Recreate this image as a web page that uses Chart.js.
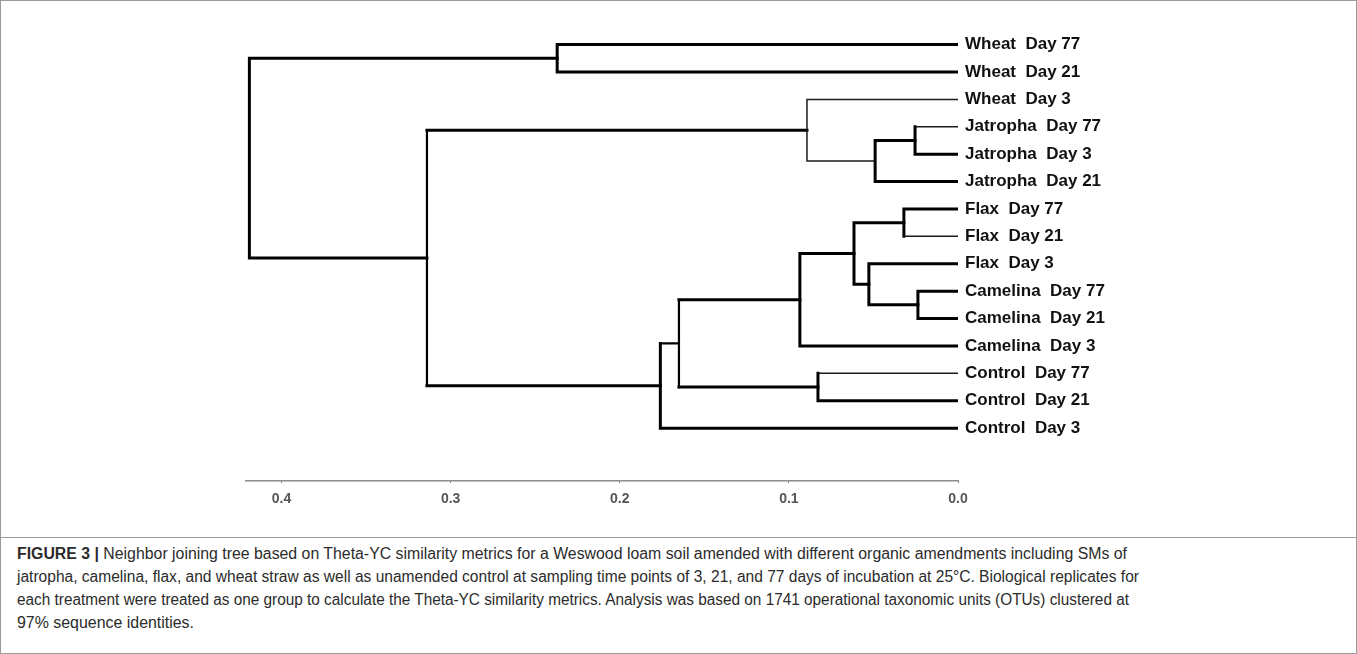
<!DOCTYPE html>
<html><head><meta charset="utf-8">
<script src="https://cdn.jsdelivr.net/npm/chart.js@4.4.0/dist/chart.umd.min.js"></script>
<style>
html,body{margin:0;padding:0;background:#fff;width:1357px;height:654px;overflow:hidden;}
#frame{position:absolute;left:0;top:0;width:1355px;height:652px;border:1px solid #9a9a9a;}
#chartBox{position:absolute;left:0;top:0;width:1357px;height:538px;}
#divider{position:absolute;left:0;top:537px;width:1357px;height:1px;background:#9a9a9a;}
#caption{position:absolute;left:17px;top:542px;font-family:'Liberation Sans',Arial,sans-serif;font-size:16px;line-height:23px;color:#2b2b2b;white-space:nowrap;}
#caption .ln{display:block;width:max-content;transform-origin:0 0;}
</style></head>
<body>
<div id="frame"></div>
<div id="divider"></div>
<div id="chartBox"><canvas id="c" width="1357" height="538"></canvas></div>
<div id="caption">
<span class="ln" data-end="1127"><b>FIGURE 3 |</b> Neighbor joining tree based on Theta-YC similarity metrics for a Weswood loam soil amended with different organic amendments including SMs of</span>
<span class="ln" data-end="1139">jatropha, camelina, flax, and wheat straw as well as unamended control at sampling time points of 3, 21, and 77 days of incubation at 25°C. Biological replicates for</span>
<span class="ln" data-end="1129">each treatment were treated as one group to calculate the Theta-YC similarity metrics. Analysis was based on 1741 operational taxonomic units (OTUs) clustered at</span>
<span class="ln" data-end="194">97% sequence identities.</span>
</div>
<script>
// ---- data ----
const LEAVES = ["Wheat  Day 77","Wheat  Day 21","Wheat  Day 3","Jatropha  Day 77","Jatropha  Day 3","Jatropha  Day 21","Flax  Day 77","Flax  Day 21","Flax  Day 3","Camelina  Day 77","Camelina  Day 21","Camelina  Day 3","Control  Day 77","Control  Day 21","Control  Day 3"];
// merge k creates node (15 + k) joining CHILD_A[k] and CHILD_B[k] at distance HEIGHT[k]
const CHILD_A = [0, 3, 16, 2, 6, 9, 8, 19, 22, 12, 23, 25, 18, 15];
const CHILD_B = [1, 4, 5, 17, 7, 10, 20, 21, 11, 13, 24, 14, 26, 27];
const HEIGHT  = [0.237, 0.0254, 0.049, 0.0893, 0.032, 0.0237, 0.0527, 0.0615, 0.0935, 0.0828, 0.165, 0.176, 0.314, 0.419];
const X_TICKS = [0, 0.1, 0.2, 0.3, 0.4];
const AXIS_MAX = 0.421;

// ---- styles ----
const THIN_BRANCH = [2, 17, 3, 7, 12];      // nodes whose incoming branch is drawn thin
const MED_BRANCH = [25];
const THIN_VERT = [18];
const MED_VERT = [25, 27];
const W_THICK = 3, W_THIN = 1.5, W_MED = 2.2;

const N = LEAVES.length;
const nodeY = [], nodeH = [];
for (let i = 0; i < N; i++) { nodeY[i] = i; nodeH[i] = 0; }
for (let k = 0; k < HEIGHT.length; k++) {
  const id = N + k;
  nodeY[id] = (nodeY[CHILD_A[k]] + nodeY[CHILD_B[k]]) / 2;
  nodeH[id] = HEIGHT[k];
}
function bw(node) { return THIN_BRANCH.includes(node) ? W_THIN : (MED_BRANCH.includes(node) ? W_MED : W_THICK); }
function vw(node) { return THIN_VERT.includes(node) ? W_THIN : (MED_VERT.includes(node) ? W_MED : W_THICK); }

const datasets = [];
for (let k = 0; k < HEIGHT.length; k++) {
  const id = N + k, a = CHILD_A[k], b = CHILD_B[k], H = HEIGHT[k];
  const widths = [bw(a), vw(id), bw(b)];
  datasets.push({
    data: [{x: nodeH[a], y: nodeY[a]}, {x: H, y: nodeY[a]}, {x: H, y: nodeY[b]}, {x: nodeH[b], y: nodeY[b]}],
    showLine: true, pointRadius: 0, borderColor: '#000', borderCapStyle: 'square', borderJoinStyle: 'miter',
    borderWidth: W_THICK,
    segment: { borderWidth: ctx => widths[ctx.p0DataIndex], borderColor: ctx => widths[ctx.p0DataIndex] < 2 ? '#1a1a1a' : '#000' }
  });
}

const FONT = "'Liberation Sans', Arial, sans-serif";
new Chart(document.getElementById('c'), {
  type: 'scatter',
  data: { datasets },
  options: {
    responsive: false, animation: false, events: [],
    layout: { padding: { left: 246, top: 7, right: 0, bottom: 27 } },
    plugins: { legend: { display: false }, tooltip: { enabled: false } },
    scales: {
      x: {
        type: 'linear', reverse: true, min: 0, max: AXIS_MAX, position: 'bottom',
        afterBuildTicks: s => { s.ticks = X_TICKS.map(v => ({ value: v })); },
        afterFit: s => { s.height = 30; },
        ticks: { callback: v => Number(v).toFixed(1), font: { family: FONT, size: 14, weight: 'bold' }, color: '#555', padding: 8, maxRotation: 0, autoSkip: false },
        grid: { drawOnChartArea: false, drawTicks: true, tickLength: 2, color: '#666' },
        border: { display: true, color: '#8c8c8c', width: 1.5 }
      },
      y: {
        type: 'linear', reverse: true, min: -1, max: 15.929, position: 'right',
        afterBuildTicks: s => { s.ticks = LEAVES.map((_, i) => ({ value: i })); },
        afterFit: s => { s.width = 399; },
        ticks: { callback: v => LEAVES[v], font: { family: FONT, size: 17, weight: 'bold' }, color: '#111', padding: 7, autoSkip: false },
        grid: { display: false, drawTicks: false },
        border: { display: false }
      }
    }
  }
});

// fit caption lines to the reference line lengths
document.querySelectorAll('#caption .ln').forEach(el => {
  const w = el.getBoundingClientRect().width;
  const target = Number(el.dataset.end) - 17;
  el.style.transform = 'scaleX(' + (target / w) + ')';
});
</script>
</body></html>
